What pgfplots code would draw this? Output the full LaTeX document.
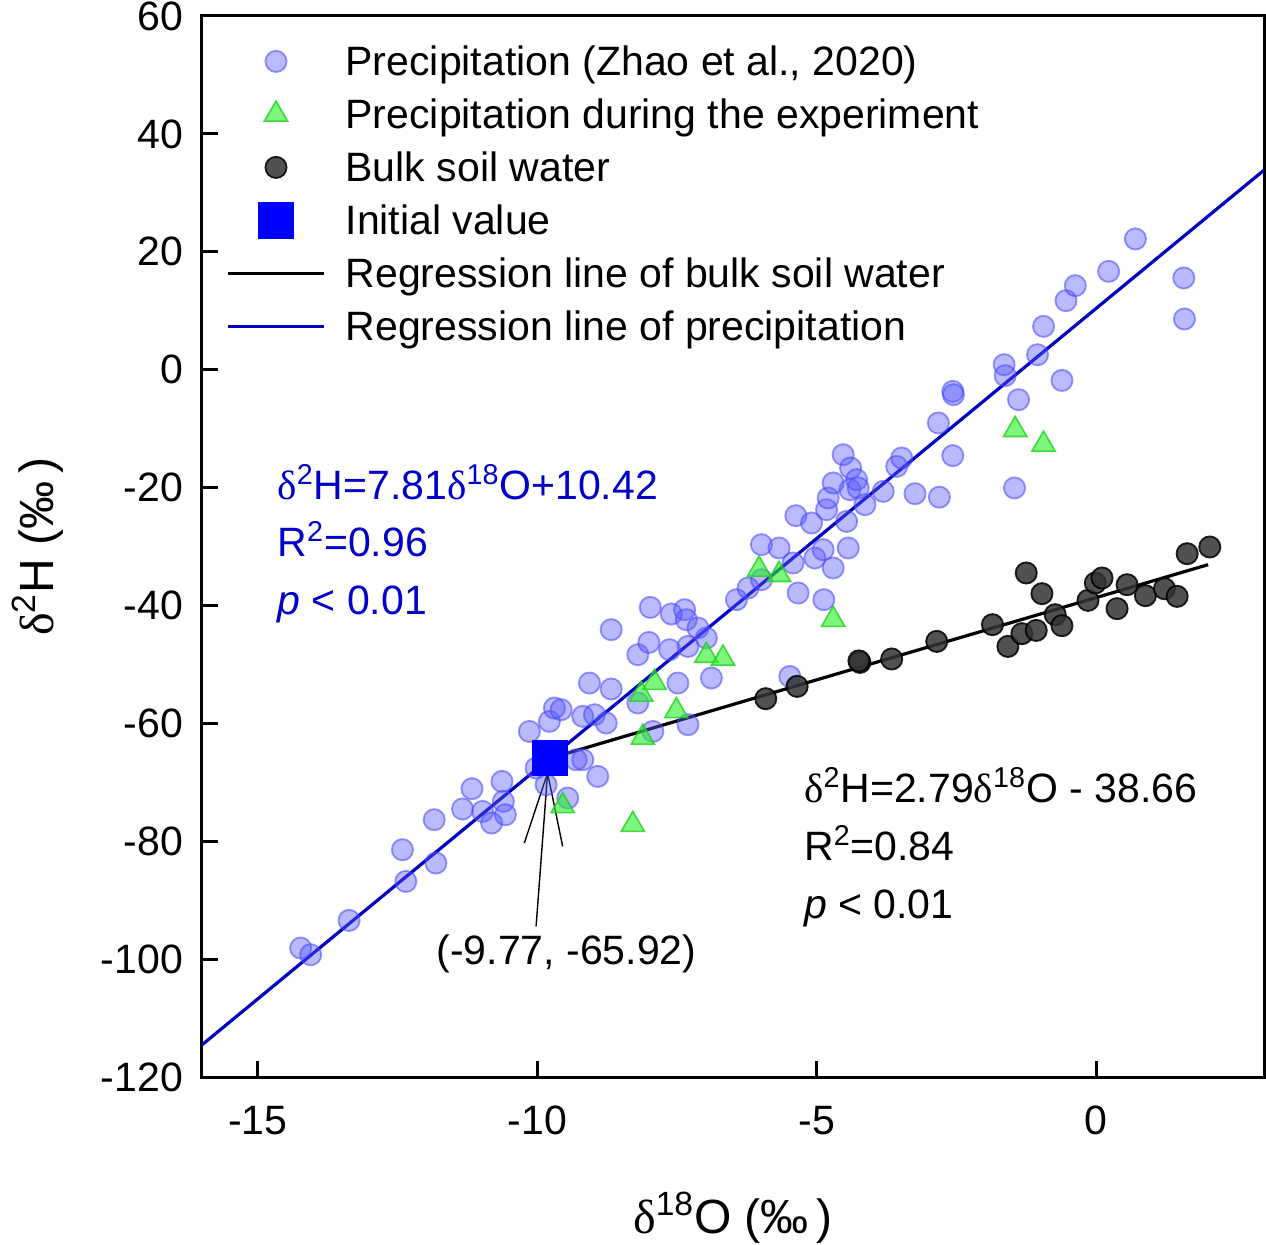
\documentclass[border=0pt]{standalone}
\usepackage{fontspec}
\setmainfont{Liberation Sans}
\newfontfamily\serf{Liberation Serif}
\usepackage{pgfplots}
\pgfplotsset{compat=1.18}
\usetikzlibrary{calc}
\newcommand{\dl}{{\serf δ}}
\definecolor{precfill}{RGB}{90,90,255}
\definecolor{precedge}{RGB}{70,70,255}
\definecolor{lineblue}{RGB}{0,0,192}
\definecolor{eqblue}{RGB}{0,0,200}
\definecolor{trifill}{RGB}{40,240,40}
\definecolor{triedge}{RGB}{30,210,30}
\newcommand{\fs}{\fontsize{20.5}{24}\selectfont}
\begin{document}
\begin{tikzpicture}
\begin{axis}[
  scale only axis, width=531pt, height=530.5pt,
  xmin=-16, xmax=3, ymin=-120, ymax=60,
  xtick={-15,-10,-5,0}, xticklabels={-15,-10,-5,0},
  ytick={-120,-100,-80,-60,-40,-20,0,20,40,60},
  yticklabels={-120,-100,-80,-60,-40,-20,0,20,40,60},
  tick align=inside, major tick length=8pt, xtick pos=bottom, ytick pos=left,
  axis line style={line width=1.5pt},
  every tick/.style={line width=1.5pt, black},
  tick label style={font=\fs},
  xticklabel style={yshift=-11pt},
  yticklabel style={xshift=-6pt},
  xlabel={\dl\textsuperscript{18}O (‰\,)},
  ylabel={\dl\textsuperscript{2}H (‰\,)},
  label style={font=\fontsize{24}{28}\selectfont},
  x label style={at={(axis description cs:0.5,-0.1329)}, anchor=center},
  y label style={at={(axis description cs:-0.1545,0.5)}, anchor=center},
  legend cell align=left,
  legend image code/.code={\draw[mark repeat=2,mark phase=2,#1] plot coordinates {(0pt,0pt) (24pt,0pt) (48pt,0pt)};},
  legend style={at={(axis description cs:0,1)}, anchor=north west, xshift=12pt, yshift=-12.5pt,
    draw=none, fill=none, inner sep=0pt, font=\fs, row sep=6.5pt,
    nodes={inner xsep=10pt, inner ysep=0pt, text height=17pt, text depth=3pt}},
]
\coordinate (SW) at (rel axis cs:0,0);
\coordinate (NE) at (rel axis cs:1,1);

\addplot[only marks, mark=*, mark size=5.3pt,
  mark options={fill=precfill, fill opacity=0.42, draw=precedge, draw opacity=0.55, line width=0.9pt}]
coordinates {
(-14.235,-98.12) (-14.056,-99.25) (-13.369,-93.43) (-12.414,-81.44) (-12.353,-86.82)
(-11.846,-76.35) (-11.815,-83.70) (-11.339,-74.53) (-11.170,-71.09) (-10.980,-74.94)
(-10.819,-76.91) (-10.633,-69.85) (-10.609,-73.24) (-10.573,-75.50) (-10.143,-61.37)
(-10.023,-67.58) (-9.844,-70.41) (-9.785,-59.67) (-9.695,-57.40) (-9.575,-57.69)
(-9.457,-72.67) (-9.306,-66.17) (-9.188,-66.17) (-9.188,-58.82) (-8.978,-58.53)
(-8.919,-69.00) (-8.769,-59.94) (-9.068,-53.16) (-8.679,-54.17) (-8.679,-44.11)
(-8.203,-48.35) (-8.203,-56.55) (-8.005,-46.27) (-7.980,-40.33) (-7.934,-61.37)
(-7.634,-47.51) (-7.604,-41.45) (-7.486,-53.16) (-7.366,-40.72) (-7.335,-42.42)
(-7.306,-46.95) (-7.306,-60.23) (-7.127,-43.82) (-6.977,-45.52) (-6.887,-52.31)
(-6.439,-39.02) (-6.231,-37.04) (-5.991,-35.63) (-5.991,-29.69) (-5.676,-30.25)
(-5.484,-52.04) (-5.425,-32.80) (-5.376,-24.77) (-5.335,-37.89) (-5.095,-26.01)
(-5.036,-31.95) (-4.887,-30.54) (-4.875,-39.02) (-4.826,-23.75) (-4.797,-21.77)
(-4.708,-19.22) (-4.708,-33.64) (-4.529,-14.42) (-4.468,-25.74) (-4.439,-30.25)
(-4.409,-20.36) (-4.396,-16.68) (-4.289,-18.66) (-4.260,-20.07) (-4.140,-22.90)
(-3.812,-20.65) (-3.572,-16.41) (-3.482,-14.98) (-3.244,-21.04) (-2.826,-9.04)
(-2.808,-21.63) (-2.568,-14.59) (-2.568,-3.68) (-2.557,-4.24) (-1.649,0.85)
(-1.631,-1.02) (-1.464,-20.07) (-1.392,-5.09) (-1.052,2.54) (-0.944,7.35)
(-0.615,-1.82) (-0.543,11.71) (-0.376,14.25) (0.220,16.68) (0.699,22.18)
(1.565,15.56) (1.577,8.60)
};
\addlegendentry{Precipitation (Zhao et al., 2020)}

\addplot[only marks, mark=triangle*, mark size=6.7pt,
  mark options={fill=trifill, fill opacity=0.6, draw=triedge, draw opacity=0.8, line width=0.8pt}]
coordinates {
(-9.547,-74.0) (-8.292,-77.2) (-8.113,-62.4) (-8.142,-55.1) (-7.903,-53.1)
(-7.514,-57.9) (-6.977,-48.5) (-6.679,-49.0) (-6.034,-33.9) (-5.676,-34.8)
(-4.708,-42.4) (-1.452,-10.2) (-0.944,-12.7)
};
\addlegendentry{Precipitation during the experiment}

\addplot[only marks, mark=*, mark size=5.3pt,
  mark options={fill=black!80, fill opacity=0.85, draw=black, draw opacity=0.85, line width=0.9pt}]
coordinates {
(-5.914,-55.82) (-5.353,-53.73) (-4.229,-49.66) (-4.247,-49.4) (-3.661,-49.08)
(-2.855,-46.10) (-1.858,-43.26) (-1.582,-46.95) (-1.332,-44.79) (-1.075,-44.23)
(-1.254,-34.49) (-0.973,-38.00) (-0.735,-41.57) (-0.615,-43.43) (-0.149,-39.14)
(-0.018,-36.19) (0.102,-35.34) (0.371,-40.55) (0.550,-36.48) (0.878,-38.34)
(1.219,-37.16) (1.446,-38.46) (1.625,-31.22) (2.030,-30.08)
};
\addlegendentry{Bulk soil water}

\addplot[only marks, mark=square*, mark size=8.8pt,
  mark options={fill=blue, draw=blue, rounded corners=2.5pt, line width=0.5pt}]
coordinates {(-9.77,-65.92)};
\addlegendentry{Initial value}

\addplot[black, line width=1.6pt, mark=none] coordinates {(-9.77,-65.92) (2.0,-33.08)};
\addlegendentry{Regression line of bulk soil water}

\addplot[lineblue, line width=1.6pt, mark=none] coordinates {(-16,-114.54) (3,33.85)};
\addlegendentry{Regression line of precipitation}

% annotations
\node[anchor=base west, font=\fs, text=eqblue, inner sep=0pt] at (axis cs:-14.654,-22.06) {\dl\textsuperscript{2}H=7.81\dl\textsuperscript{18}O+10.42};
\node[anchor=base west, font=\fs, text=eqblue, inner sep=0pt] at (axis cs:-14.654,-31.68) {R\textsuperscript{2}=0.96};
\node[anchor=base west, font=\fs, text=eqblue, inner sep=0pt] at (axis cs:-14.654,-41.57) {\textit{p} < 0.01};

\node[anchor=base west, font=\fs, inner sep=0pt] at (axis cs:-5.233,-73.46) {\dl\textsuperscript{2}H=2.79\dl\textsuperscript{18}O - 38.66};
\node[anchor=base west, font=\fs, inner sep=0pt] at (axis cs:-5.233,-83.3) {R\textsuperscript{2}=0.84};
\node[anchor=base west, font=\fs, inner sep=0pt] at (axis cs:-5.233,-93.15) {\textit{p} < 0.01};

\node[anchor=base, font=\fs, inner sep=0pt] at (axis cs:-9.48,-100.95) {(-9.77, -65.92)};
\draw[line width=0.7pt] (axis cs:-10.023,-94.45) -- (axis cs:-9.817,-68.43);
\draw[line width=0.7pt] (axis cs:-10.233,-80.30) -- (axis cs:-9.817,-68.43) -- (axis cs:-9.547,-80.88);
\end{axis}
\pgfresetboundingbox
\path[use as bounding box] ($(SW)+(-101pt,-83.5pt)$) rectangle ($(NE)+(1pt,8pt)$);
\end{tikzpicture}
\end{document}
